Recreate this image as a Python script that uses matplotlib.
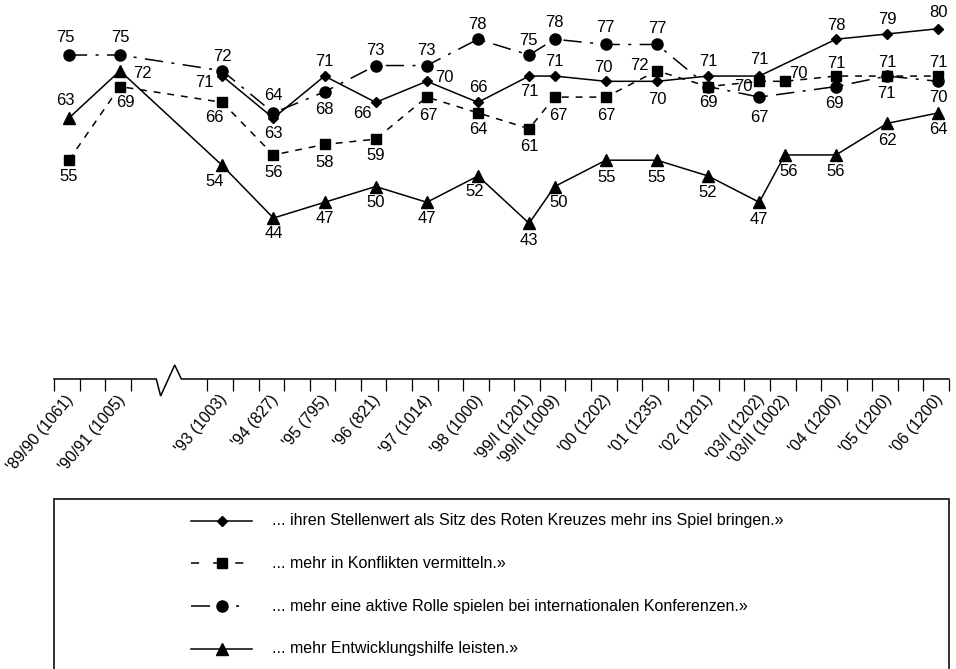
import numpy as np
import matplotlib
matplotlib.use("Agg")
import matplotlib.pyplot as plt
from matplotlib.transforms import ScaledTranslation
from matplotlib.lines import Line2D

plt.rcParams['font.family'] = ['Liberation Sans', 'DejaVu Sans']

# ---------------- data ----------------
waves = ["'89/90 (1061)", "'90/91 (1005)", "'93 (1003)", "'94 (827)", "'95 (795)",
         "'96 (821)", "'97 (1014)", "'98 (1000)", "'99/I (1201)", "'99/II (1009)",
         "'00 (1202)", "'01 (1235)", "'02 (1201)", "'03/I (1202)", "'03/II (1002)",
         "'04 (1200)", "'05 (1200)", "'06 (1200)"]
# survey time on a half-year grid
wave_slot = [0, 2, 6, 8, 10, 12, 14, 16, 18, 19, 21, 23, 25, 27, 28, 30, 32, 34]

nan = np.nan
stellenwert = [nan, nan, 71, 63, 71, 66, 70, 66, 71, 71, 70, 70, 71, 71, nan, 78, 79, 80]
konflikte = [55, 69, 66, 56, 58, 59, 67, 64, 61, 67, 67, 72, 69, 70, 70, 71, 71, 71]
konferenzen = [75, 75, 72, 64, 68, 73, 73, 78, 75, 78, 77, 77, 69, 67, nan, 69, 71, 70]
entwicklung = [63, 72, 54, 44, 47, 50, 47, 52, 43, 50, 55, 55, 52, 47, 56, 56, 62, 64]

legend_labels = [
    "... ihren Stellenwert als Sitz des Roten Kreuzes mehr ins Spiel bringen.»",
    "... mehr in Konflikten vermitteln.»",
    "... mehr eine aktive Rolle spielen bei internationalen Konferenzen.»",
    "... mehr Entwicklungshilfe leisten.»",
]

# ---------------- label placement (pixels, image coords: +y = down) ----------------
off_stellenwert = [None, None, (-18, 6), (0, 15), (0, -15), (-13, 11), (18, -4), (0, -15),
                   (0, 15), (0, -15), (-2, -14), (0, 18), (0, -15), (0, -17), None,
                   (0, -14), (0, -14), (0, -16)]
off_konflikte = [(0, 16), (5, 16), (-8, 15), (0, 18), (0, 18), (0, 16), (2, 18), (0, 17),
                 (0, 18), (4, 18), (1, 18), (-18, -5), (0, 16), (-16, 5), (14, -8),
                 (0, -13), (0, -14), (0, -14)]
off_konferenzen = [(-3, -18), (0, -18), (0, -14), (0, -17), (0, 18), (0, -15), (0, -15),
                   (-1, -15), (-1, -15), (0, -17), (0, -17), (0, -16), None, (0, 20), None,
                   (-2, 17), (-1, 17), (0, 16)]
off_entwicklung = [(-3, -18), (22, 3), (-8, 16), (0, 15), (0, 16), (0, 16), (0, 16),
                   (-3, 16), (0, 17), (4, 16), (1, 17), (0, 17), (0, 17), (0, 17), (4, 17),
                   (0, 17), (0, 17), (0, 17)]

W, H = 956, 669
fig = plt.figure(figsize=(W / 100, H / 100), dpi=100)

ax_left, ax_right, ax_top, ax_bottom = 54, 949, 0, 379
ax = fig.add_axes([ax_left / W, 1 - ax_bottom / H, (ax_right - ax_left) / W, (ax_bottom - ax_top) / H])
ax.set_xlim(0, 35)
ax.set_ylim(13.4, 85.46)
ax.patch.set_alpha(0)
for s in ax.spines.values():
    s.set_visible(False)
ax.set_yticks([])

x = np.array(wave_slot) + 0.58

series = [
    (stellenwert, off_stellenwert, dict(marker='D', ms=5.5, ls='-'), 2),
    (konferenzen, off_konferenzen, dict(marker='o', ms=8, ls=(0, (12, 5.5, 2, 5.5))), 3),
    (konflikte, off_konflikte, dict(marker='s', ms=7.5, ls=(0, (4.5, 4.5))), 4),
    (entwicklung, off_entwicklung, dict(marker='^', ms=8, ls='-'), 5),
]
for vals, offs, style, z in series:
    v = np.array(vals, dtype=float)
    m = ~np.isnan(v)
    ax.plot(x[m], v[m], color='black', lw=1.1, mfc='black', mec='black', zorder=z,
            clip_on=False, **style)
    for xi, vi, off in zip(x, v, offs):
        if np.isnan(vi) or off is None:
            continue
        ax.annotate(f"{int(vi)}", (xi, vi), xytext=(off[0], -off[1]),
                    textcoords='offset pixels', ha='center', va='center',
                    fontsize=12, zorder=6)

# axis line with break
tr = ax.get_xaxis_transform()
hpx = ax_bottom - ax_top
ax.plot([0, 4.0, 4.17, 4.72, 4.98, 35], [0, 0, -17 / hpx, 14 / hpx, 0, 0],
        color='black', lw=1.1, transform=tr, clip_on=False, solid_joinstyle='miter')

tick_slots = [0, 1, 2, 3] + list(range(6, 36))
ax.set_xticks(tick_slots, minor=True)
ax.set_xticks(x)
ax.set_xticklabels(waves, rotation=50, ha='right', va='top', fontsize=11.5)
ax.tick_params(axis='x', which='minor', length=8.6, width=0.9, direction='out', color='black')
ax.tick_params(axis='x', which='major', length=0, pad=9.4)
shift = ScaledTranslation(8 / 100, 0, fig.dpi_scale_trans)
for lab in ax.get_xticklabels():
    lab.set_transform(lab.get_transform() + shift)

# ---------------- legend box (figure pixel coordinates) ----------------
lg = fig.add_axes([0, 0, 1, 1])
lg.set_xlim(0, W)
lg.set_ylim(H, 0)
lg.axis('off')
lg.patch.set_alpha(0)
lg.plot([54, 54, 949, 949], [H + 20, 499, 499, H + 20], color='#222222', lw=1.3,
        solid_joinstyle='miter', clip_on=True)

leg_styles = [
    dict(marker='D', ms=5.5, ls='-'),
    dict(marker='s', ms=7.5, ls=(0, (5.3, 9.2))),
    dict(marker='o', ms=8, ls=(0, (12.5, 17, 2, 17))),
    dict(marker='^', ms=8, ls='-'),
]
row_y = [521, 563, 606, 649]
for ry, st, txt in zip(row_y, leg_styles, legend_labels):
    lg.add_line(Line2D([191, 252], [ry, ry], color='black', lw=1.1, mfc='black', mec='black',
                       markevery=[], **st))
    lg.plot([222], [ry], color='black', mfc='black', mec='black', marker=st['marker'],
            ms=st['ms'], ls='none')
    lg.text(272, ry, txt, ha='left', va='center', fontsize=11.5)

fig.savefig("out.png", dpi=100)
